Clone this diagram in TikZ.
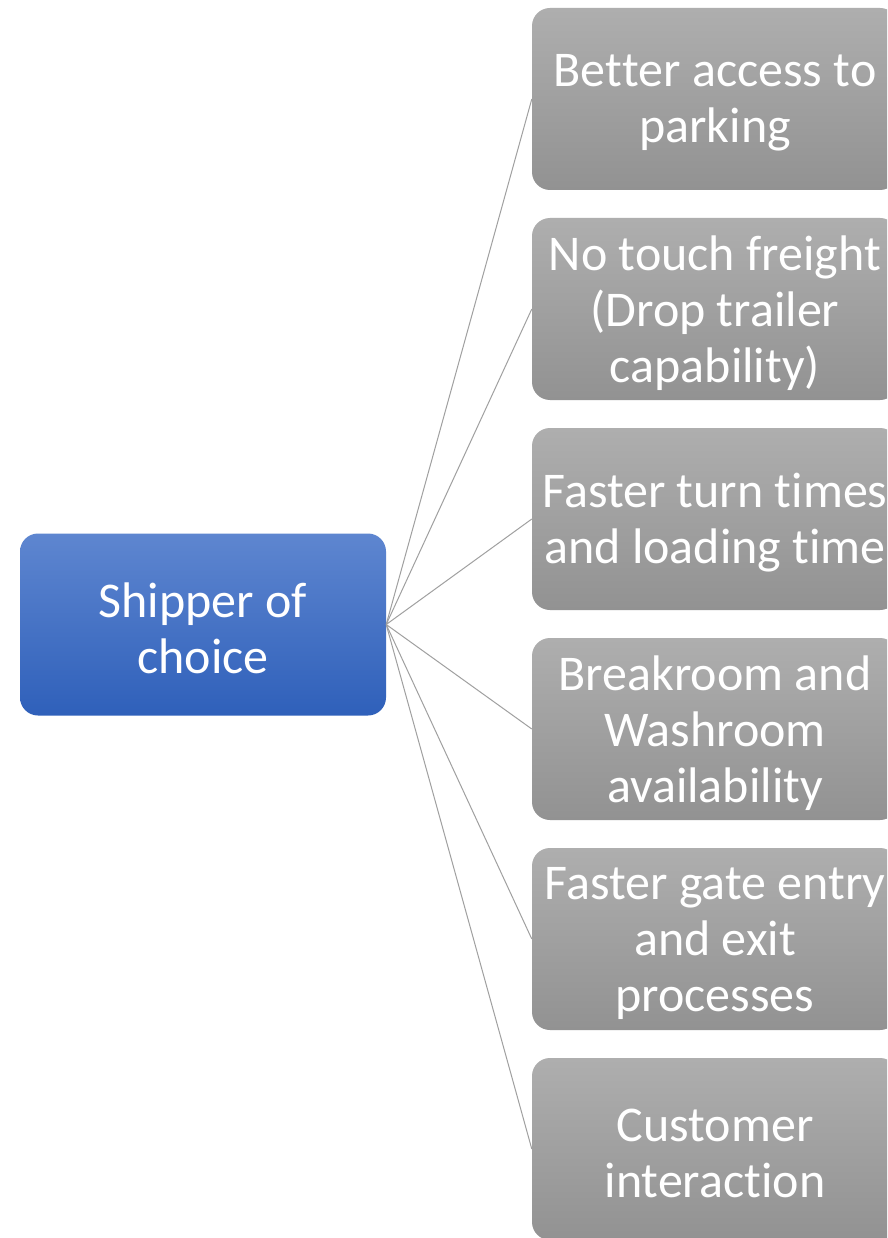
\documentclass[tikz,border=0pt]{standalone}
\usepackage{fontspec}
\setmainfont{Carlito}[RawFeature={-liga;-clig;-dlig;-calt}]
\newcommand{\nolig}{\kern0pt }
\begin{document}
\begin{tikzpicture}[x=1pt,y=-1pt,
  box/.style={rectangle, rounded corners=18pt, minimum width=366pt, minimum height=182pt,
    inner sep=0pt},
  graybox/.style={box, top color=gbtop, bottom color=gbbot},
  bluebox/.style={box, top color=bbtop, bottom color=bbbot},
  boxtext/.style={inner sep=0pt, text=white, align=center, font=\fontsize{50}{56}\selectfont},
  link/.style={draw=linkgray, line width=1pt}]
\definecolor{gbtop}{HTML}{AEAEAE}
\definecolor{gbbot}{HTML}{929292}
\definecolor{bbtop}{HTML}{5E86D0}
\definecolor{bbbot}{HTML}{2F60BA}
\definecolor{linkgray}{HTML}{A0A0A0}
\useasboundingbox (0,0) rectangle (887,1238);
\clip (0,0) rectangle (887,1238);
\fill[white] (0,0) rectangle (887,1238);
\node[bluebox] (L) at (203,624.5) {};
\node[graybox] (R1) at (715,99) {};
\node[graybox] (R2) at (715,309) {};
\node[graybox] (R3) at (715,519) {};
\node[graybox] (R4) at (715,729) {};
\node[graybox] (R5) at (715,939) {};
\node[graybox] (R6) at (715,1149) {};
\node[boxtext] (TL) at ([yshift=-4pt]L.center) {Shipper of\\choice};
\node[boxtext] (T1) at ([yshift=-4pt]R1.center) {Bet\nolig ter access to\\parking};
\node[boxtext] (T2) at ([yshift=-4pt]R2.center) {No touch fre\nolig ight\\(Drop trailer\\capabili\nolig ty)};
\node[boxtext] (T3) at ([yshift=-4pt]R3.center) {Faster turn t\nolig imes\\and loading t\nolig ime};
\node[boxtext] (T4) at ([yshift=-4pt]R4.center) {Breakroom and\\Washroom\\availabili\nolig ty};
\node[boxtext] (T5) at ([yshift=-4pt]R5.center) {Faster gate entry\\and exit\\processes};
\node[boxtext] (T6) at ([yshift=-4pt]R6.center) {Customer\\interact\nolig ion};
\foreach \i in {1,...,6} \draw[link] (L.east) -- (R\i.west);
\end{tikzpicture}
\end{document}
